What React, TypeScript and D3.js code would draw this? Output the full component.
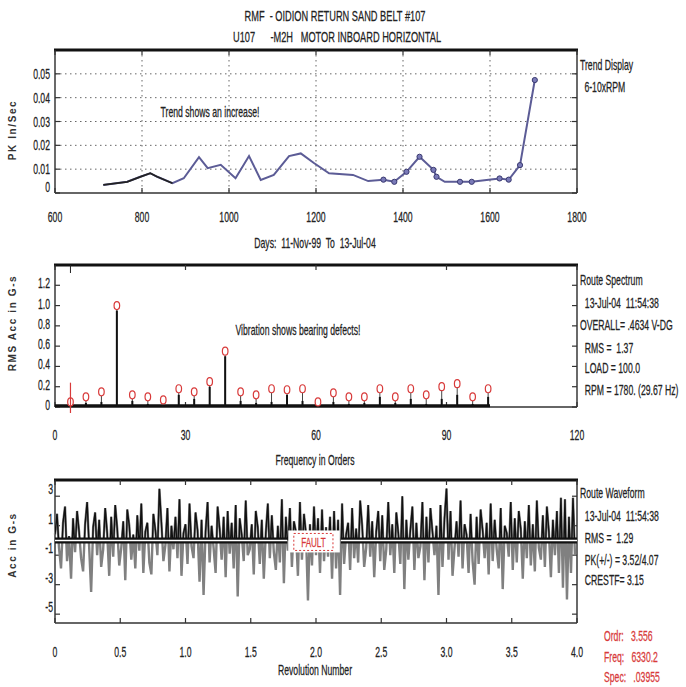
import React from "react";
import * as d3 from "d3";

// ---------- data ----------
const titleLines = ["RMF  - OIDION RETURN SAND BELT #107", "U107      -M2H   MOTOR INBOARD HORIZONTAL"];

const trendDays = [711, 766, 796, 819, 835, 870, 896, 931, 951, 981, 1015, 1046, 1073, 1103, 1138, 1165, 1196, 1230, 1285, 1320, 1355, 1380, 1408, 1438, 1470, 1477, 1496, 1531, 1558, 1597, 1622, 1643, 1669, 1703];
const trendVals = [0.0034, 0.0047, 0.0068, 0.0083, 0.0068, 0.0041, 0.0062, 0.015, 0.0104, 0.0118, 0.0062, 0.0155, 0.0055, 0.0076, 0.0155, 0.0166, 0.0125, 0.0083, 0.0076, 0.005, 0.0056, 0.0047, 0.0089, 0.0152, 0.0097, 0.0068, 0.0047, 0.0047, 0.0047, 0.0056, 0.0061, 0.0056, 0.0117, 0.0474];
const trendMarked = [0, 0, 0, 0, 0, 0, 0, 0, 0, 0, 0, 0, 0, 0, 0, 0, 0, 0, 0, 0, 1, 1, 1, 1, 1, 1, 0, 1, 1, 0, 1, 1, 1, 1];
const trendXTicks = [600, 800, 1000, 1200, 1400, 1600, 1800];
const trendYTicks = [0, 0.01, 0.02, 0.03, 0.04, 0.05];
const trendYLabels = ["0", "0.01", "0.02", "0.03", "0.04", "0.05"];
const trendInfo = ["Trend Display", " 6-10xRPM"];

const harmonicOrders = [3.56, 7.11, 10.67, 14.22, 17.78, 21.34, 24.89, 28.45, 32.0, 35.56, 39.12, 42.67, 46.23, 49.78, 53.34, 56.9, 60.45, 64.0, 67.56, 71.12, 74.68, 78.23, 81.79, 85.34, 88.9, 92.46, 96.01, 99.57];
const markerAmps = [0.05, 0.1, 0.15, 1.0, 0.12, 0.1, 0.07, 0.18, 0.15, 0.25, 0.55, 0.15, 0.12, 0.18, 0.17, 0.18, 0.05, 0.14, 0.1, 0.1, 0.18, 0.1, 0.18, 0.12, 0.2, 0.23, 0.1, 0.18];
const spectrumAmps = [0.03, 0.04, 0.05, 0.95, 0.06, 0.03, 0.02, 0.12, 0.08, 0.2, 0.5, 0.06, 0.04, 0.05, 0.12, 0.06, 0.02, 0.05, 0.03, 0.04, 0.1, 0.04, 0.08, 0.03, 0.08, 0.12, 0.03, 0.1];
const noiseFloor = [[0, 0.012], [100, 0.012]];
const cursorOrder = 3.556;
const specXTicks = [0, 30, 60, 90, 120];
const specYTicks = [0, 0.2, 0.4, 0.6, 0.8, 1.0, 1.2];
const specYLabels = ["0", "0.2", "0.4", "0.6", "0.8", "1.0", "1.2"];
const specInfo = ["Route Spectrum", "  13-Jul-04  11:54:38", "OVERALL= .4634 V-DG", "  RMS =  1.37", "  LOAD = 100.0", "  RPM = 1780. (29.67 Hz)"];

const waveVals = [
  // revolution 0
  0.4, 1.8, -0.5, -1.9, 1.2, 2.3, -1.4, 0.3, -2.6, 1.5, -0.8, 2.0, 0.6, -1.2, -2.1, 1.1, 2.6, -0.4, -3.5, 0.9, 1.9, -1.0, 1.4, -1.8, -0.6, 2.2,
  0.5, -2.4, 1.6, -1.1, 2.4, 0.8, -1.7, -0.5, 1.3, -2.7, 2.1, 1.0, -1.3, 0.4, -1.9, 1.7, -0.7, 2.5, -2.2, 0.6, 1.2, -1.5, -2.3, 1.8,
  0.7, -1.0, 3.5, 1.2, -1.4, -0.3, 2.2, -2.1, 1.0, -0.6, 1.6, -1.2, 2.8, -2.4, 0.5,
  // revolution 1
  1.1, -1.6, 2.5, -0.4, -1.2, 1.9, 0.7, -2.8, 1.4, -3.7, 0.6, 2.6, -1.5, 1.0, -0.5, -2.2, 2.3, 0.8, -1.3, 1.6, -2.5, 2.0, -0.9, 1.2, -1.9, 2.4,
  -3.8, 1.5, 0.4, -1.4, 2.7, -1.0, -0.6, 1.1, -2.3, 2.0, 0.9, -1.6, 1.4, -2.6, 0.5, 2.5, -1.2, 1.7, -0.8, -2.0, 1.0, -1.5, 2.8, -2.9, 1.6, -0.7,
  2.2, -1.8, 1.3, 0.6, -2.4, 2.6, -1.3, 1.8, 0.5, -4.07, 1.1, -1.7, 2.3,
  // revolution 2
  -1.0, 1.5, -2.2, 2.1, -1.4, 0.9, -1.1, 1.6, -2.6, 2.0, -1.9, 1.4, -3.7,
  2.5, -1.6, 0.4, 1.2, -2.0, 2.2, -1.2, 0.8, -1.5, 2.7, 1.0, -1.8, -0.5, 2.4, -1.1, 1.3, -2.5, 0.6, 2.0, -1.4, 1.7, -2.0, -0.6, 2.6, -1.0, 1.1,
  -2.2, 1.9, 0.5, -1.6, 3.0, -3.3, 1.4, -1.3, 0.7, 2.3, -2.0, 1.2, -1.2, -0.4, 2.6, -2.7, 1.6, -1.5, 2.2, 0.6, -1.0, 1.0, -3.7, 2.4, -1.8, 1.5,
  // revolution 3
  3.52, -1.3, 2.0, -2.4, -0.5, 1.3, -1.1, 2.7, -1.9, 1.1, 0.4, -2.2, 1.8, -1.4, -3.0, 1.6, -1.6, 2.1, 0.7, -1.2, 1.2, -2.3, 2.5, -1.4, 1.4, -0.6,
  -1.9, 2.2, -3.3, 1.0, 0.5, -1.1, 2.6, -2.0, 1.5, -1.5, 2.0, 0.8, -2.6, 1.3, -1.2, 2.4, -1.7, 1.1, -2.1, 2.7, -0.5, -1.3, 1.7, -1.8, 2.3, 0.6,
  -2.5, 1.4, -1.0, 2.0, -2.2, 2.9, -3.2, 2.8, -4.0, 1.6, -2.2, 2.9, -1.0,
];
const samplesPerRev = 65;
const faultRange = [1.78, 2.19];
const waveXTicks = [0, 0.5, 1.0, 1.5, 2.0, 2.5, 3.0, 3.5, 4.0];
const waveXLabels = ["0", "0.5", "1.0", "1.5", "2.0", "2.5", "3.0", "3.5", "4.0"];
const waveYTicks = [-5, -3, -1, 1, 3];
const waveInfo = ["Route Waveform", "  13-Jul-04  11:54:38", "  RMS =  1.29", "  PK(+/-) = 3.52/4.07", "  CRESTF= 3.15"];
const cursorInfo = ["Ordr:   3.556", "Freq:   6330.2", "Spec:   .03955"];

// ---------- helpers ----------
const FONT = "'Liberation Sans', Arial, sans-serif";
function T({ x, y, children, anchor = "start", size = 14, fill = "#222", sx = 0.62 }: any) {
  return (
    <text
      transform={`translate(${x},${y}) scale(${sx},1)`}
      textAnchor={anchor}
      fontSize={size}
      fontFamily={FONT}
      fill={fill}
      stroke={fill}
      strokeWidth={0.25}
      style={{ whiteSpace: "pre" }}
    >
      {children}
    </text>
  );
}
function YTitle({ x, y, children }: any) {
  return (
    <text
      transform={`translate(${x},${y}) rotate(-90)`}
      textAnchor="middle"
      fontSize={10}
      fontWeight="bold"
      letterSpacing={1.6}
      fontFamily={FONT}
      fill="#333"
    >
      {children}
    </text>
  );
}

const L = 55, R = 577;

function Frame({ top, bottom, xs, xTicks, yTicks, ys }: any) {
  return (
    <g>
      <line x1={L} x2={R} y1={bottom} y2={bottom} stroke="#333" strokeWidth={1.6} />
      <line x1={L} x2={L} y1={top} y2={bottom} stroke="#444" strokeWidth={1.6} />
      <line x1={R} x2={R} y1={top} y2={bottom} stroke="#444" strokeWidth={1.6} />
      <line x1={L - 1} x2={R + 1} y1={top} y2={top} stroke="#111" strokeWidth={3} />
      {xTicks.map((t: number, i: number) => (
        <g key={"xt" + i}>
          <line x1={xs(t)} x2={xs(t)} y1={top} y2={top + 5} stroke="#333" strokeWidth={1.2} />
          <line x1={xs(t)} x2={xs(t)} y1={bottom} y2={bottom - 5} stroke="#333" strokeWidth={1.2} />
        </g>
      ))}
      {yTicks.map((t: number, i: number) => (
        <g key={"yt" + i}>
          <line x1={L} x2={L + 5} y1={ys(t)} y2={ys(t)} stroke="#333" strokeWidth={1.2} />
          <line x1={R} x2={R - 5} y1={ys(t)} y2={ys(t)} stroke="#333" strokeWidth={1.2} />
        </g>
      ))}
    </g>
  );
}

export default function App() {
  // ----- trend panel -----
  const xT = d3.scaleLinear().domain([600, 1800]).range([L, R]);
  const yT = d3.scaleLinear().domain([0, 0.06]).range([193, 50]);
  const trendLine = d3
    .line<number>()
    .x((_, i) => xT(trendDays[i]))
    .y((v) => yT(v));

  // ----- spectrum panel -----
  const xS = d3.scaleLinear().domain([0, 120]).range([L, R]);
  const yS = d3.scaleLinear().domain([0, 1.4]).range([407, 265]);

  // ----- waveform panel -----
  const xW = d3.scaleLinear().domain([0, 4]).range([L, R]);
  const yW = d3.scaleLinear().domain([-5.6, 4.1]).range([623, 480]);
  const waveLine = d3
    .line<number>()
    .x((_, i) => xW(i / samplesPerRev))
    .y((v) => yW(v));
  const y0 = yW(0);

  return (
    <svg
      width={686}
      height={687}
      style={{ position: "absolute", left: 0, top: 0, background: "#fff" }}
    >
      <rect x={0} y={0} width={686} height={687} fill="#fff" />
      <defs>
        <clipPath id="above">
          <rect x={L} y={480} width={R - L} height={y0 - 480} />
        </clipPath>
      </defs>

      {/* titles */}
      <T x={335} y={21} anchor="middle" size={14} sx={0.66}>{titleLines[0]}</T>
      <T x={337} y={42} anchor="middle" size={14} sx={0.66}>{titleLines[1]}</T>

      {/* ===== Trend ===== */}
      {trendYTicks.slice(1).map((t, i) => (
        <line key={"hg" + i} x1={L} x2={R} y1={yT(t)} y2={yT(t)} stroke="#666" strokeWidth={1} strokeDasharray="1.5,3.5" />
      ))}
      {trendXTicks.slice(1, -1).map((t, i) => (
        <line key={"vg" + i} x1={xT(t)} x2={xT(t)} y1={50} y2={193} stroke="#666" strokeWidth={1} strokeDasharray="1.5,3.5" />
      ))}
      <Frame top={50} bottom={193} xs={xT} xTicks={trendXTicks} yTicks={trendYTicks} ys={yT} />
      <path d={trendLine(trendVals) || ""} fill="none" stroke="#5c5c96" strokeWidth={2} />
      <path d={trendLine(trendVals.slice(0, 6)) || ""} fill="none" stroke="#222" strokeWidth={1.8} />
      {trendVals.map((v, i) =>
        trendMarked[i] ? (
          <circle key={"tm" + i} cx={xT(trendDays[i])} cy={yT(v)} r={2.6} fill="#7a7ab8" stroke="#3a3a70" strokeWidth={1} />
        ) : null
      )}
      {trendYTicks.map((t, i) => (
        <T key={"tyl" + i} x={50} y={yT(t) + 5 - (t === 0 ? 6 : 0)} anchor="end" size={14}>{trendYLabels[i]}</T>
      ))}
      {trendXTicks.map((t, i) => (
        <T key={"txl" + i} x={xT(t)} y={222} anchor="middle" size={14}>{String(t)}</T>
      ))}
      <T x={315} y={248} anchor="middle" size={14}>Days:  11-Nov-99  To  13-Jul-04</T>
      <T x={210} y={117} anchor="middle" size={14}>Trend shows an increase!</T>
      <YTitle x={16} y={130}>PK In/Sec</YTitle>
      <T x={580} y={70} size={14}>{trendInfo[0]}</T>
      <T x={582} y={92} size={14}>{trendInfo[1]}</T>

      {/* ===== Spectrum ===== */}
      <Frame top={265} bottom={407} xs={xS} xTicks={specXTicks} yTicks={specYTicks} ys={yS} />
      <line x1={xS(cursorOrder)} x2={xS(cursorOrder)} y1={265} y2={273} stroke="#222" strokeWidth={1} />
      <line
        x1={xS(noiseFloor[0][0])}
        x2={xS(noiseFloor[1][0])}
        y1={yS(noiseFloor[0][1])}
        y2={yS(noiseFloor[1][1])}
        stroke="#111"
        strokeWidth={3}
      />
      {harmonicOrders.map((o, i) => (
        <g key={"h" + i}>
          <line x1={xS(o)} x2={xS(o)} y1={yS(0)} y2={yS(markerAmps[i]) + 4} stroke="#444" strokeWidth={1} />
          <line x1={xS(o)} x2={xS(o)} y1={yS(0)} y2={yS(spectrumAmps[i])} stroke="#111" strokeWidth={2} />
          <ellipse cx={xS(o)} cy={yS(markerAmps[i])} rx={2.8} ry={4} fill="#fff" stroke="#d83a3a" strokeWidth={1.2} />
        </g>
      ))}
      <line x1={xS(cursorOrder)} x2={xS(cursorOrder)} y1={yS(0.24)} y2={413} stroke="#d83a3a" strokeWidth={1.2} />
      {specYTicks.map((t, i) => (
        <T key={"syl" + i} x={50} y={yS(t) + 3} anchor="end" size={14}>{specYLabels[i]}</T>
      ))}
      {specXTicks.map((t, i) => (
        <T key={"sxl" + i} x={xS(t)} y={440} anchor="middle" size={14}>{String(t)}</T>
      ))}
      <T x={315} y={465} anchor="middle" size={14}>Frequency in Orders</T>
      <T x={298} y={335} anchor="middle" size={14}>Vibration shows bearing defects!</T>
      <YTitle x={16} y={323}>RMS Acc in G-s</YTitle>
      {specInfo.map((s, i) => (
        <T key={"si" + i} x={580} y={[285, 308, 330, 353, 373, 395][i]} size={14}>{s}</T>
      ))}

      {/* ===== Waveform ===== */}
      <Frame top={480} bottom={623} xs={xW} xTicks={waveXTicks} yTicks={waveYTicks} ys={yW} />
      <path d={waveLine(waveVals) || ""} fill="none" stroke="#808080" strokeWidth={2.4} />
      <path d={waveLine(waveVals) || ""} fill="none" stroke="#111" strokeWidth={1.4} clipPath="url(#above)" />
      {/* zero line, broken at the fault label */}
      {[[0, faultRange[0]], [faultRange[1], 4]].map((r, i) => (
        <g key={"z" + i}>
          <line x1={xW(r[0])} x2={xW(r[1])} y1={y0} y2={y0} stroke="#111" strokeWidth={6} />
          <line x1={xW(r[0])} x2={xW(r[1])} y1={y0} y2={y0} stroke="#fff" strokeWidth={1.5} />
        </g>
      ))}
      <rect x={xW(faultRange[0]) + 1} y={y0 - 10} width={xW(faultRange[1]) - xW(faultRange[0]) - 2} height={22} fill="#fff" />
      <rect x={xW(1.83)} y={y0 - 7} width={xW(2.13) - xW(1.83)} height={17} fill="#fff" stroke="#d83a3a" strokeWidth={1} strokeDasharray="2,2" />
      <T x={(xW(1.83) + xW(2.13)) / 2} y={y0 + 7} anchor="middle" size={13} fill="#d83a3a">FAULT</T>
      {waveYTicks.map((t, i) => (
        <T key={"wyl" + i} x={53} y={yW(t) - 2} anchor="end" size={14}>{String(t)}</T>
      ))}
      {waveXTicks.map((t, i) => (
        <T key={"wxl" + i} x={xW(t)} y={657} anchor="middle" size={14}>{waveXLabels[i]}</T>
      ))}
      <T x={315} y={675} anchor="middle" size={14}>Revolution Number</T>
      <YTitle x={16} y={545}>Acc in G-s</YTitle>
      {waveInfo.map((s, i) => (
        <T key={"wi" + i} x={580} y={[498, 521, 543, 565, 585][i]} size={14}>{s}</T>
      ))}
      {cursorInfo.map((s, i) => (
        <T key={"ci" + i} x={604} y={[641, 662, 682][i]} size={14} fill="#d83a3a">{s}</T>
      ))}
    </svg>
  );
}
